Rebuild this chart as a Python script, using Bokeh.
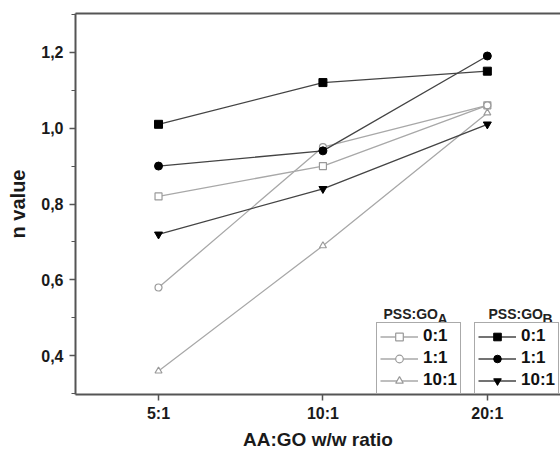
from bokeh.plotting import figure
from bokeh.models import (Range1d, FixedTicker, CustomJSTickFormatter, LinearAxis,
                          Legend, LegendItem, Label)
from bokeh.embed import file_html
from bokeh.resources import INLINE

# ---- data ----
ratios = ["5:1", "10:1", "20:1"]          # AA:GO w/w ratio categories
x_idx = list(range(len(ratios)))

# PSS:GO_A (open symbols)
a_0_1 = [0.82, 0.90, 1.06]
a_1_1 = [0.58, 0.95, 1.06]
a_10_1 = [0.36, 0.69, 1.04]
# PSS:GO_B (filled symbols)
b_0_1 = [1.01, 1.12, 1.15]
b_1_1 = [0.90, 0.94, 1.19]
b_10_1 = [0.72, 0.84, 1.01]

series_labels = ["0:1", "1:1", "10:1"]
y_major = [0.4, 0.6, 0.8, 1.0, 1.2]
y_minor = [0.3, 0.5, 0.7, 0.9, 1.1, 1.3]

FONT = "Liberation Sans"
AXIS_COL = "#555555"
LIGHT = "#a8a8a8"
DARK = "#444444"

p = figure(width=560, height=452, output_backend="svg", toolbar_location=None,
           x_range=Range1d(-0.505, 2.445), y_range=Range1d(0.298, 1.302),
           min_border_left=75, min_border_right=0, min_border_top=13, min_border_bottom=54)
p.grid.visible = False
p.outline_line_color = None
p.background_fill_color = "white"

# axes
xa = p.xaxis[0]
xa.ticker = FixedTicker(ticks=x_idx, minor_ticks=[])
xa.major_label_overrides = {i: r for i, r in zip(x_idx, ratios)}
xa.axis_label = "AA:GO w/w ratio"
ya = p.yaxis[0]
ya.ticker = FixedTicker(ticks=y_major, minor_ticks=y_minor)
ya.formatter = CustomJSTickFormatter(code="return tick.toFixed(1).replace('.', ',')")
ya.axis_label = "n value"

for ax in (xa, ya):
    ax.axis_line_color = AXIS_COL
    ax.axis_line_width = 2
    ax.major_tick_line_color = AXIS_COL
    ax.major_tick_line_width = 1.5
    ax.major_tick_out = 6
    ax.major_tick_in = 0
    ax.minor_tick_line_color = AXIS_COL
    ax.minor_tick_line_width = 1.2
    ax.minor_tick_out = 4
    ax.minor_tick_in = 0
    ax.major_label_text_font = FONT
    ax.major_label_text_font_style = "bold"
    ax.major_label_text_font_size = "16px"
    ax.major_label_text_color = "#1a1a1a"
    ax.axis_label_text_font = FONT
    ax.axis_label_text_font_style = "bold"
    ax.axis_label_text_font_size = "19px"
    ax.axis_label_text_color = "#1a1a1a"
xa.major_label_standoff = 4
xa.axis_label_standoff = 4
ya.major_label_standoff = 6
ya.axis_label_standoff = 9
ya.axis_label_text_font_size = "20px"

# top border line
top = LinearAxis(ticker=FixedTicker(ticks=[]), major_label_text_font_size="0px",
                 axis_line_color=AXIS_COL, axis_line_width=2,
                 major_tick_line_color=None, minor_tick_line_color=None)
p.add_layout(top, "above")

# ---- series ----
open_series = [(a_0_1, "square"), (a_1_1, "circle"), (a_10_1, "triangle")]
filled_series = [(b_0_1, "square"), (b_1_1, "circle"), (b_10_1, "inverted_triangle")]

items_a, items_b = [], []
for (vals, mk), lab in zip(open_series, series_labels):
    lr = p.line(x_idx, vals, line_color=LIGHT, line_width=1.3)
    sr = p.scatter(x_idx, vals, marker=mk, size=7, line_color="#9a9a9a", fill_color="white", line_width=1.2)
    items_a.append(LegendItem(label=lab, renderers=[lr, sr]))
for (vals, mk), lab in zip(filled_series, series_labels):
    lr = p.line(x_idx, vals, line_color=DARK, line_width=1.3)
    sr = p.scatter(x_idx, vals, marker=mk, size=8, line_color="black", fill_color="black")
    items_b.append(LegendItem(label=lab, renderers=[lr, sr]))

def make_legend(items, loc):
    return Legend(items=items, location=loc, orientation="vertical",
                  glyph_width=38, glyph_height=19, label_height=19, label_standoff=5,
                  spacing=2, padding=3, margin=0,
                  label_text_font=FONT, label_text_font_style="bold", label_text_font_size="17px",
                  label_text_color="#111111",
                  border_line_color=AXIS_COL, border_line_width=1.5,
                  background_fill_color="white", background_fill_alpha=1.0)

p.add_layout(make_legend(items_a, (301, 0)))
p.add_layout(make_legend(items_b, (399, 0)))

# legend titles PSS:GO with subscripts
for x0, sub in ((308, "A"), (413, "B")):
    p.add_layout(Label(x=x0, y=81, x_units="screen", y_units="screen", text="PSS:GO",
                       text_font=FONT, text_font_style="bold", text_font_size="14px",
                       text_color="#222222", text_align="left", text_baseline="alphabetic"))
    p.add_layout(Label(x=x0 + 54, y=76, x_units="screen", y_units="screen", text=sub,
                       text_font=FONT, text_font_style="bold", text_font_size="14px",
                       text_color="#222222", text_align="left", text_baseline="alphabetic"))

open("out.html", "w").write(file_html(p, INLINE))
